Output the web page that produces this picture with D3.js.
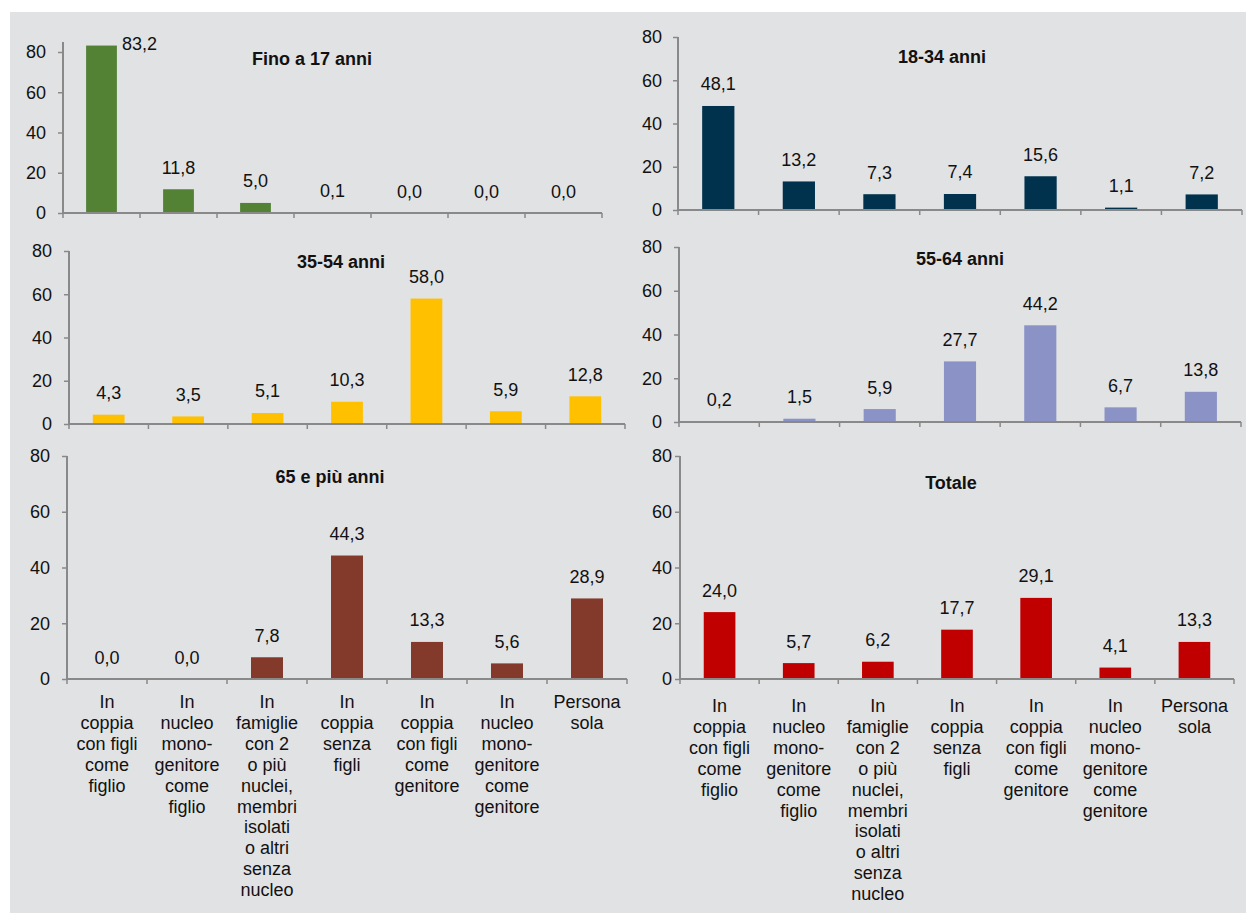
<!DOCTYPE html>
<html>
<head>
<meta charset="utf-8">
<script src="https://cdn.jsdelivr.net/npm/d3@7"></script>
<style>
body{margin:0;background:#fff;}
text{font-family:"Liberation Sans",Arial,sans-serif;fill:#111;}
</style>
</head>
<body>
<svg width="1246" height="913"></svg>
<script>
// categories (one line per array entry)
var categories=[
  ["In","coppia","con figli","come","figlio"],
  ["In","nucleo","mono-","genitore","come","figlio"],
  ["In","famiglie","con 2","o più","nuclei,","membri","isolati","o altri","senza","nucleo"],
  ["In","coppia","senza","figli"],
  ["In","coppia","con figli","come","genitore"],
  ["In","nucleo","mono-","genitore","come","genitore"],
  ["Persona","sola"]
];
var titles=["Fino a 17 anni","18-34 anni","35-54 anni","55-64 anni","65 e più anni","Totale"];
var fino17=[83.2,11.8,5.0,0.1,0.0,0.0,0.0];
var anni18_34=[48.1,13.2,7.3,7.4,15.6,1.1,7.2];
var anni35_54=[4.3,3.5,5.1,10.3,58.0,5.9,12.8];
var anni55_64=[0.2,1.5,5.9,27.7,44.2,6.7,13.8];
var anni65=[0.0,0.0,7.8,44.3,13.3,5.6,28.9];
var totale=[24.0,5.7,6.2,17.7,29.1,4.1,13.3];
var yTicks=[0,20,40,60,80];

var series=[fino17,anni18_34,anni35_54,anni55_64,anni65,totale];
var colors=["#548235","#00314d","#ffc000","#8a92c6","#833a2a","#c00000"];

// panel layout: x range, y of 0 and of 80, axis top value, title position
var panels=[
  {x0:63, x1:602, y0:213, y80:52, top:85, tx:312, ty:65, pad:12, labels:false},
  {x0:678,x1:1242,y0:210, y80:37, top:80, tx:942, ty:63, pad:11, labels:false},
  {x0:69, x1:625, y0:424, y80:251,top:80, tx:341, ty:268,pad:12, labels:false},
  {x0:679,x1:1241,y0:422, y80:247,top:80, tx:960, ty:265,pad:12, labels:false},
  {x0:67, x1:627, y0:679, y80:456,top:80, tx:330, ty:483,pad:12, labels:true, ly:29},
  {x0:680,x1:1234,y0:679, y80:456,top:80, tx:951, ty:489,pad:3,  labels:true, ly:33}
];

var svg=d3.select("svg");
svg.append("rect").attr("x",10).attr("y",12).attr("width",1236).attr("height",901).attr("fill","#e1e2e4");

var fmt=function(v){return d3.format(".1f")(v).replace(".",",");};
var idx=d3.range(categories.length);
var axisColor="#898989";

panels.forEach(function(p,k){
  var data=series[k];
  var x=d3.scaleBand().domain(idx).range([p.x0,p.x1]).paddingInner(0.6).paddingOuter(0.3);
  var y=d3.scaleLinear().domain([0,80]).range([p.y0,p.y80]);
  var step=x.step();
  var g=svg.append("g");

  // bars
  g.selectAll("rect.bar").data(data).enter().append("rect")
    .attr("class","bar")
    .attr("x",function(d,i){return x(i);})
    .attr("width",x.bandwidth())
    .attr("y",function(d){return y(d);})
    .attr("height",function(d){return p.y0-y(d);})
    .attr("fill",colors[k]);

  // y axis
  var ya=g.append("g").attr("transform","translate("+p.x0+",0)")
    .call(d3.axisLeft(y).tickValues(yTicks).tickSize(5).tickSizeOuter(0).tickPadding(p.pad).tickFormat(d3.format("d")));
  ya.select(".domain").remove();
  ya.append("line").attr("y1",y(p.top)).attr("y2",p.y0).attr("stroke",axisColor).attr("stroke-width",2);
  ya.selectAll(".tick line").attr("stroke",axisColor).attr("stroke-width",1.5);
  ya.selectAll(".tick text").attr("font-size","18px").attr("fill","#111")
    .style("font-family","'Liberation Sans',Arial,sans-serif");

  // x axis line and boundary ticks
  g.append("line").attr("x1",p.x0).attr("x2",p.x1).attr("y1",p.y0).attr("y2",p.y0)
    .attr("stroke",axisColor).attr("stroke-width",2);
  g.selectAll("line.xt").data(d3.range(categories.length+1)).enter().append("line")
    .attr("class","xt")
    .attr("x1",function(i){return p.x0+i*step;})
    .attr("x2",function(i){return p.x0+i*step;})
    .attr("y1",p.y0).attr("y2",p.y0+5)
    .attr("stroke",axisColor).attr("stroke-width",1.5);

  // value labels
  g.selectAll("text.val").data(data).enter().append("text")
    .attr("class","val")
    .attr("font-size","18px")
    .attr("text-anchor",function(d){return d>80?"start":"middle";})
    .attr("x",function(d,i){return d>80?x(i)+x.bandwidth()+5:x(i)+x.bandwidth()/2;})
    .attr("y",function(d){return d>80?y(d)+4:y(d)-15.5;})
    .text(fmt);

  // title
  g.append("text").attr("x",p.tx).attr("y",p.ty).attr("text-anchor","middle")
    .attr("font-size","18px").attr("font-weight","bold").text(titles[k]);

  // category labels
  if(p.labels){
    var cl=g.selectAll("text.cat").data(categories).enter().append("text")
      .attr("class","cat").attr("font-size","18px").attr("text-anchor","middle")
      .attr("transform",function(d,i){return "translate("+(x(i)+x.bandwidth()/2)+","+(p.y0+p.ly)+")";});
    cl.selectAll("tspan").data(function(d){return d;}).enter().append("tspan")
      .attr("x",0).attr("y",function(d,j){return j*20.9;}).text(function(d){return d;});
  }
});
</script>
</body>
</html>
